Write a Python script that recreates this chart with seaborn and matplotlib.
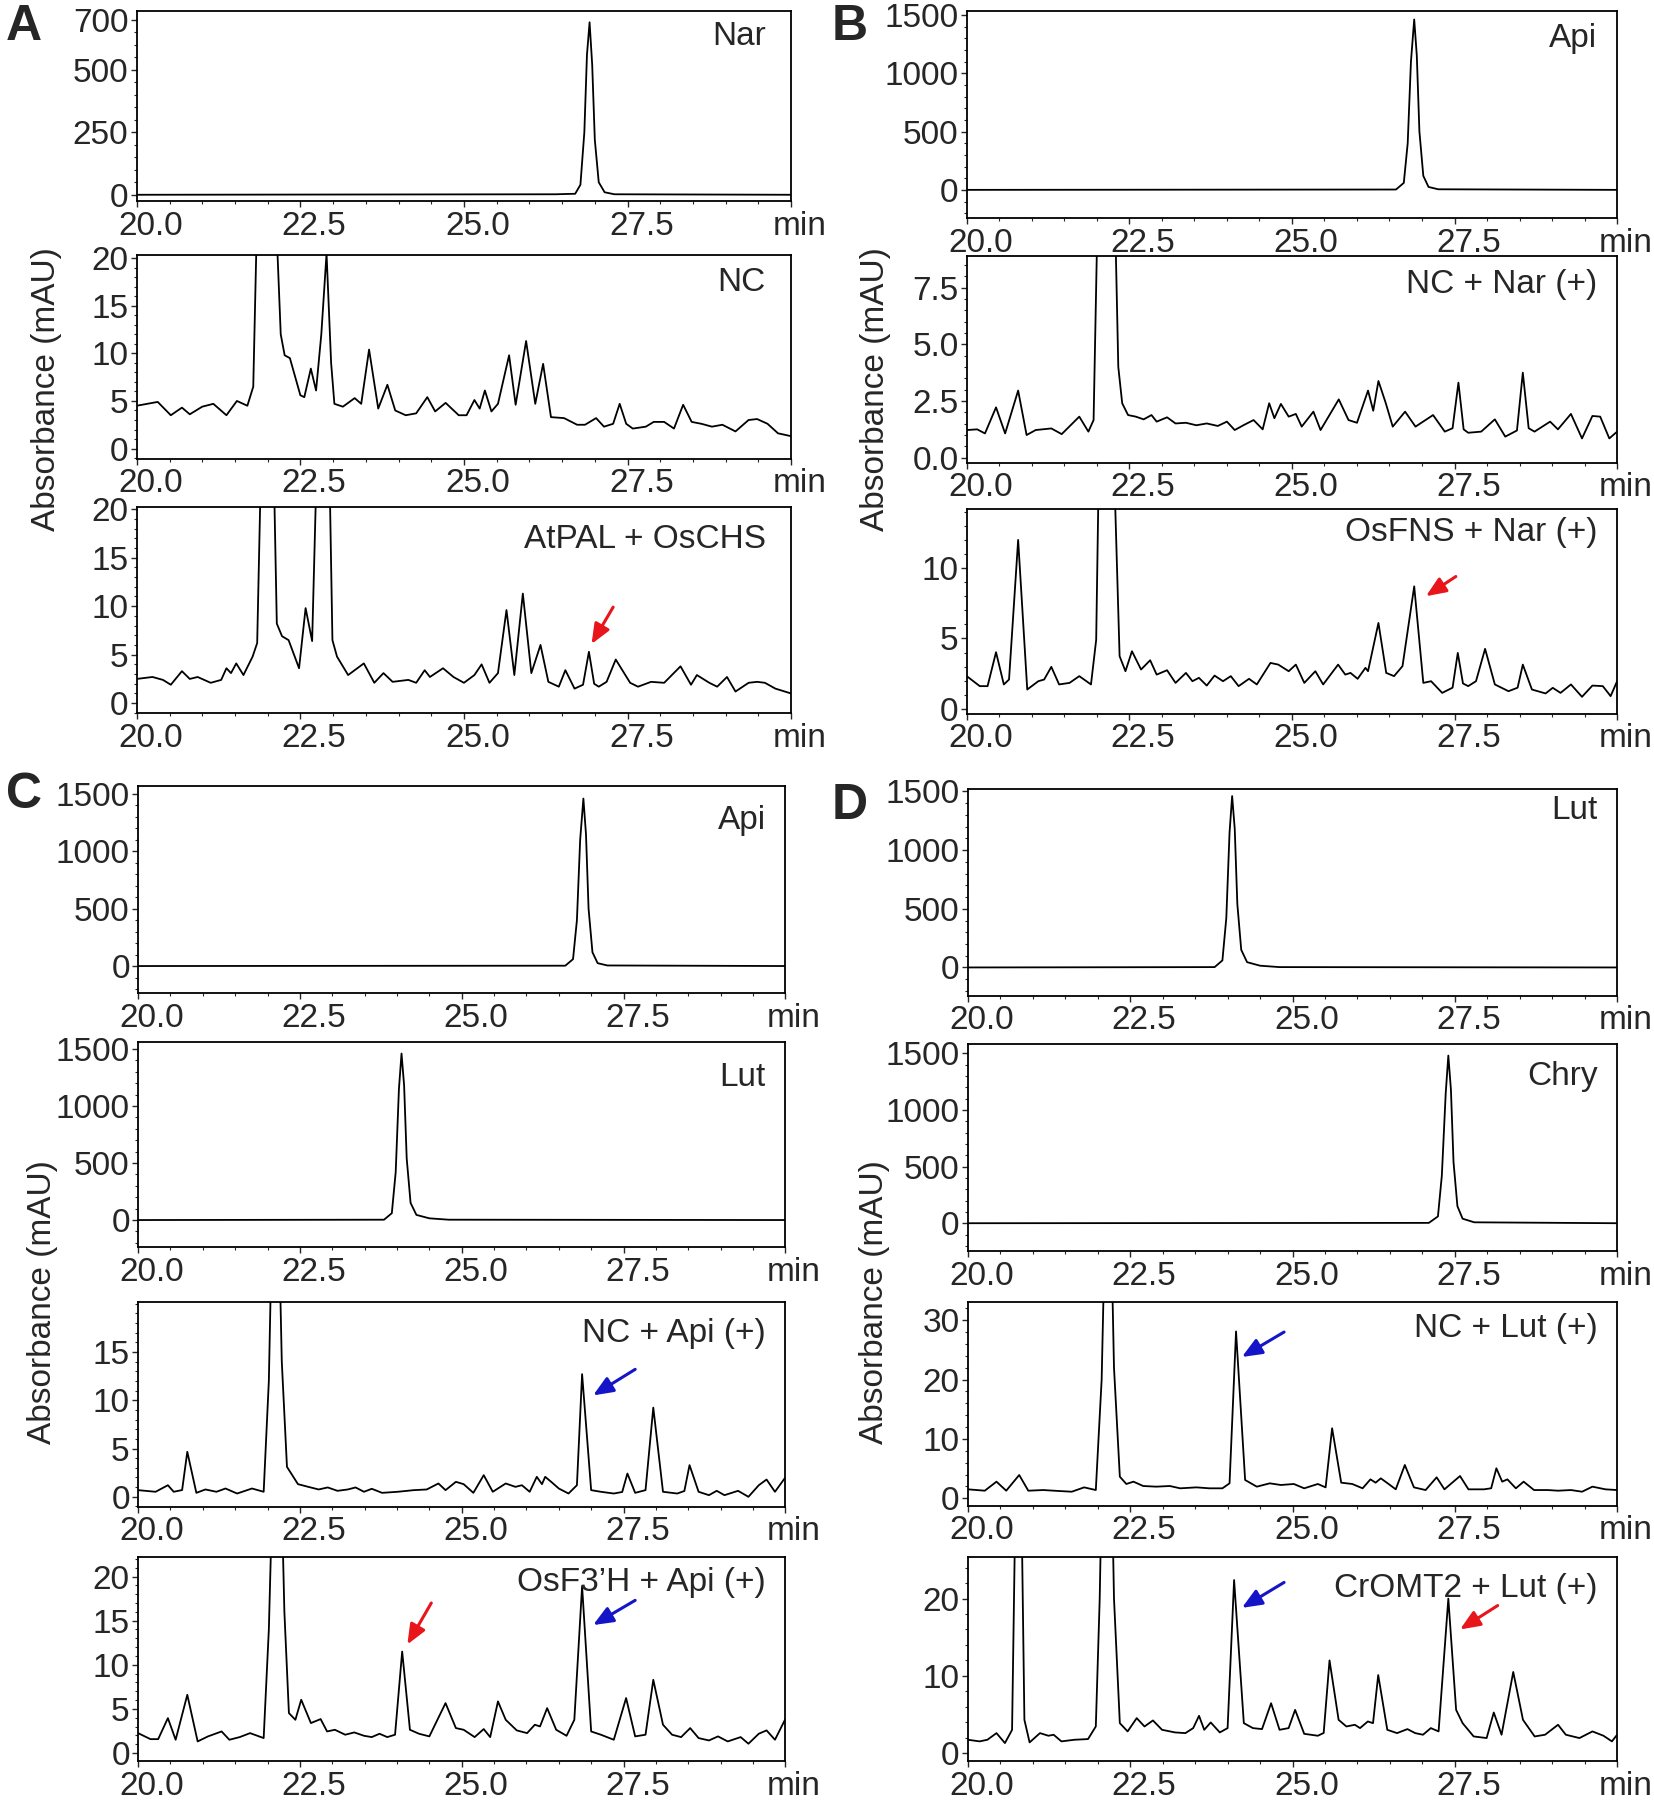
import seaborn as sns
import matplotlib.pyplot as plt
import matplotlib.transforms as mtrans
from matplotlib.ticker import MultipleLocator, AutoMinorLocator, FormatStrFormatter

# ---- chromatogram traces (retention time in min, absorbance in mAU) ----
nar_t = [20.0, 26.4, 26.7, 26.78, 26.84, 26.88, 26.92, 26.96, 27.0, 27.06, 27.15, 27.3, 30.0]
nar_v = [0, 2, 4, 40, 250, 560, 690, 520, 220, 50, 10, 2, 0]

api_t = [20.0, 26.6, 26.72, 26.78, 26.83, 26.88, 26.92, 26.96, 27.02, 27.1, 27.25, 30.0]
api_v = [0, 3, 60, 400, 1100, 1460, 1150, 500, 120, 25, 5, 0]

lut_t = [20.0, 23.8, 23.92, 23.98, 24.03, 24.07, 24.11, 24.15, 24.21, 24.3, 24.5, 24.8, 30.0]
lut_v = [0, 3, 60, 420, 1150, 1460, 1180, 540, 150, 45, 15, 3, 0]

chry_t = [20.0, 27.1, 27.24, 27.3, 27.36, 27.4, 27.44, 27.48, 27.54, 27.62, 27.8, 30.0]
chry_v = [0, 3, 60, 420, 1150, 1480, 1180, 540, 150, 40, 8, 0]

nc_t = [20.0, 20.32, 20.52, 20.69, 20.81, 21.0, 21.17, 21.37, 21.53, 21.69, 21.78, 21.84,
        21.98, 22.13, 22.2, 22.26, 22.34, 22.5, 22.56, 22.66, 22.74, 22.82, 22.9, 22.97,
        23.02, 23.15, 23.33, 23.43, 23.55, 23.69, 23.83, 23.95, 24.11, 24.27, 24.44, 24.56,
        24.72, 24.92, 25.04, 25.16, 25.24, 25.32, 25.42, 25.52, 25.69, 25.79, 25.95, 26.09,
        26.21, 26.33, 26.53, 26.73, 26.85, 27.02, 27.14, 27.28, 27.38, 27.48, 27.58, 27.78,
        27.9, 28.06, 28.21, 28.35, 28.48, 28.63, 28.79, 28.95, 29.15, 29.35, 29.48, 29.64,
        29.8, 30.0]
nc_v = [4.5, 4.9, 3.5, 4.3, 3.6, 4.4, 4.7, 3.5, 5.0, 4.5, 6.5, 25,
        70, 24, 12, 9.8, 9.5, 5.6, 5.4, 8.4, 6.1, 12, 20.5, 9,
        4.7, 4.4, 5.3, 4.7, 10.4, 4.2, 6.7, 4.0, 3.5, 3.7, 5.4, 3.9,
        4.8, 3.5, 3.5, 5.1, 4.2, 6.1, 3.9, 4.7, 9.8, 4.6, 11.3, 4.7,
        8.9, 3.3, 3.2, 2.5, 2.5, 3.2, 2.3, 2.6, 4.7, 2.6, 2.1, 2.3,
        2.8, 2.8, 2.1, 4.6, 2.8, 2.6, 2.3, 2.5, 1.8, 3.0, 3.1, 2.6,
        1.6, 1.3]

chs_t = [20.0, 20.24, 20.4, 20.52, 20.69, 20.81, 20.93, 21.13, 21.29, 21.37, 21.44, 21.52,
         21.63, 21.77, 21.84, 21.9, 22.0, 22.1, 22.14, 22.22, 22.32, 22.48, 22.58, 22.68,
         22.74, 22.84, 22.95, 22.99, 23.06, 23.23, 23.47, 23.63, 23.77, 23.91, 24.15, 24.27,
         24.4, 24.48, 24.68, 24.84, 25.0, 25.16, 25.27, 25.39, 25.52, 25.65, 25.77, 25.9,
         26.03, 26.17, 26.29, 26.45, 26.55, 26.69, 26.82, 26.91, 26.99, 27.06, 27.18, 27.32,
         27.54, 27.66, 27.86, 28.06, 28.31, 28.47, 28.56, 28.75, 28.87, 29.02, 29.15, 29.35,
         29.48, 29.6, 29.76, 30.0]
chs_v = [2.5, 2.7, 2.4, 1.9, 3.3, 2.5, 2.7, 2.1, 2.4, 3.6, 3.1, 4.1,
         2.9, 4.8, 6.2, 25, 70, 22, 8.2, 6.9, 6.5, 3.6, 9.8, 6.4,
         22, 60, 22, 6.5, 4.8, 2.9, 4.1, 2.1, 3.1, 2.2, 2.4, 2.1,
         3.4, 2.7, 3.6, 2.7, 2.1, 2.9, 4.0, 2.1, 3.1, 9.6, 2.9, 11.3,
         3.1, 6.0, 2.2, 1.7, 3.4, 1.5, 1.9, 5.3, 2.0, 1.7, 2.2, 4.5,
         2.1, 1.7, 2.2, 2.1, 3.8, 1.9, 2.9, 2.1, 1.7, 2.7, 1.2, 2.1,
         2.2, 2.1, 1.5, 1.0]

ncnar_t = [20.0, 20.16, 20.28, 20.45, 20.59, 20.79, 20.92, 21.06, 21.3, 21.46, 21.73, 21.87,
           21.95, 22.02, 22.15, 22.27, 22.33, 22.39, 22.48, 22.6, 22.72, 22.84, 22.92, 23.08,
           23.21, 23.37, 23.53, 23.69, 23.86, 24.0, 24.12, 24.26, 24.41, 24.55, 24.65, 24.73,
           24.83, 24.95, 25.06, 25.15, 25.33, 25.44, 25.72, 25.87, 26.0, 26.17, 26.25, 26.33,
           26.44, 26.55, 26.74, 26.9, 27.17, 27.35, 27.47, 27.56, 27.64, 27.71, 27.91, 28.12,
           28.28, 28.46, 28.55, 28.64, 28.73, 28.97, 29.09, 29.29, 29.46, 29.62, 29.74, 29.88,
           30.0]
ncnar_v = [1.22, 1.25, 1.07, 2.22, 1.07, 2.96, 1.0, 1.22, 1.29, 1.04, 1.81, 1.15,
           1.66, 12, 40, 12, 4.0, 2.4, 1.88, 1.81, 1.69, 1.88, 1.59, 1.78,
           1.51, 1.54, 1.43, 1.51, 1.40, 1.59, 1.22, 1.44, 1.66, 1.25, 2.4, 1.74,
           2.37, 1.81, 1.93, 1.37, 2.03, 1.22, 2.57, 1.66, 1.54, 2.96, 2.07, 3.38,
           2.43, 1.37, 2.03, 1.37, 1.88, 1.15, 1.3, 3.31, 1.25, 1.1, 1.15, 1.69,
           0.93, 1.2, 3.75, 1.3, 1.15, 1.59, 1.25, 1.93, 0.85, 1.84, 1.81, 0.85,
           1.15]

fns_t = [20.0, 20.2, 20.32, 20.45, 20.57, 20.65, 20.79, 20.93, 21.1, 21.19, 21.3, 21.42,
         21.58, 21.73, 21.91, 21.99, 22.04, 22.15, 22.26, 22.35, 22.44, 22.54, 22.68, 22.82,
         22.92, 23.08, 23.21, 23.37, 23.47, 23.57, 23.69, 23.81, 23.94, 24.06, 24.18, 24.34,
         24.46, 24.67, 24.79, 24.95, 25.06, 25.19, 25.36, 25.48, 25.71, 25.82, 25.9, 26.01,
         26.13, 26.17, 26.33, 26.45, 26.57, 26.7, 26.88, 27.02, 27.14, 27.31, 27.47, 27.55,
         27.63, 27.71, 27.83, 27.97, 28.12, 28.33, 28.47, 28.55, 28.69, 28.9, 29.01, 29.13,
         29.29, 29.46, 29.62, 29.78, 29.9, 30.0]
fns_v = [2.32, 1.61, 1.61, 4.02, 1.73, 2.08, 12.0, 1.37, 1.96, 2.08, 2.98, 1.73,
         1.84, 2.32, 1.73, 4.9, 20, 60, 18, 3.74, 2.67, 4.09, 2.79, 3.45,
         2.43, 2.74, 1.84, 2.55, 1.96, 2.2, 1.65, 2.36, 1.96, 2.32, 1.61, 2.13,
         1.73, 3.26, 3.14, 2.67, 3.14, 1.84, 2.67, 1.73, 3.14, 2.43, 2.55, 2.13,
         2.91, 2.67, 6.1, 2.55, 2.32, 3.03, 8.7, 1.84, 1.96, 1.13, 1.5, 3.97,
         1.8, 1.61, 1.96, 4.26, 1.73, 1.25, 1.5, 3.14, 1.37, 1.09, 1.49, 1.13,
         1.73, 0.85, 1.65, 1.61, 0.9, 1.96]

ncapi_t = [20.0, 20.27, 20.46, 20.55, 20.68, 20.76, 20.9, 21.04, 21.21, 21.35, 21.53, 21.76,
           21.94, 22.02, 22.12, 22.22, 22.3, 22.47, 22.63, 22.79, 22.93, 23.08, 23.24, 23.36,
           23.49, 23.61, 23.77, 24.01, 24.26, 24.46, 24.64, 24.75, 24.91, 25.03, 25.18, 25.34,
           25.48, 25.68, 25.83, 25.93, 26.05, 26.16, 26.24, 26.29, 26.4, 26.5, 26.65, 26.78,
           26.86, 27.0, 27.15, 27.35, 27.48, 27.56, 27.68, 27.84, 27.96, 28.11, 28.33, 28.44,
           28.52, 28.66, 28.82, 28.94, 29.06, 29.27, 29.43, 29.59, 29.71, 29.84, 30.0]
ncapi_v = [0.69, 0.52, 1.2, 0.52, 0.7, 4.66, 0.41, 0.76, 0.52, 0.86, 0.34, 0.86,
           0.52, 12, 45, 14, 3.1, 1.31, 1.03, 0.76, 0.97, 0.62, 0.76, 0.97,
           0.52, 0.83, 0.41, 0.52, 0.69, 0.76, 1.38, 0.69, 1.55, 1.31, 0.41, 2.24,
           0.52, 1.38, 1.03, 1.2, 0.52, 2.07, 1.31, 2.07, 1.45, 0.86, 0.34, 1.2,
           12.7, 0.69, 0.52, 0.34, 0.5, 2.41, 0.41, 0.69, 9.24, 0.52, 0.34, 0.6,
           3.28, 0.52, 0.17, 0.62, 0.17, 0.62, 0.0, 1.2, 1.79, 0.52, 2.0]

f3h_t = [20.0, 20.19, 20.31, 20.46, 20.58, 20.76, 20.92, 21.08, 21.29, 21.41, 21.57, 21.73,
         21.94, 22.02, 22.15, 22.26, 22.33, 22.43, 22.52, 22.67, 22.82, 22.92, 23.04, 23.2,
         23.34, 23.49, 23.61, 23.73, 23.85, 23.97, 24.08, 24.2, 24.34, 24.5, 24.75, 24.91,
         25.03, 25.2, 25.34, 25.44, 25.56, 25.68, 25.85, 26.01, 26.13, 26.21, 26.32, 26.46,
         26.62, 26.74, 26.86, 27.0, 27.15, 27.35, 27.54, 27.68, 27.84, 27.96, 28.11, 28.25,
         28.39, 28.53, 28.66, 28.82, 28.96, 29.11, 29.31, 29.43, 29.59, 29.71, 29.84, 30.0]
f3h_v = [2.26, 1.58, 1.58, 3.96, 1.51, 6.6, 1.32, 1.89, 2.45, 1.51, 1.81, 2.26,
         1.7, 14, 50, 16, 4.53, 3.77, 6.04, 3.4, 3.85, 2.45, 2.64, 2.08,
         2.34, 1.96, 1.81, 2.19, 1.81, 2.08, 11.5, 2.64, 2.19, 1.89, 5.66, 2.83,
         2.64, 1.81, 2.72, 1.81, 5.85, 3.77, 2.57, 2.26, 3.21, 3.02, 5.09, 2.64,
         1.96, 3.77, 18.9, 2.45, 2.08, 1.51, 6.23, 1.89, 2.08, 8.3, 3.21, 2.08,
         1.81, 2.83, 1.7, 1.43, 1.89, 1.32, 1.81, 1.06, 2.19, 2.57, 1.51, 3.85]

nclut_t = [20.0, 20.26, 20.44, 20.59, 20.79, 20.93, 21.16, 21.4, 21.6, 21.79, 21.97, 22.06,
           22.16, 22.25, 22.34, 22.44, 22.55, 22.7, 22.9, 23.11, 23.27, 23.52, 23.72, 23.92,
           24.03, 24.13, 24.27, 24.45, 24.65, 24.82, 25.02, 25.18, 25.39, 25.51, 25.61, 25.75,
           25.92, 26.08, 26.2, 26.28, 26.36, 26.48, 26.59, 26.73, 26.87, 27.05, 27.22, 27.34,
           27.58, 27.71, 27.95, 28.06, 28.14, 28.23, 28.31, 28.44, 28.56, 28.72, 28.93, 29.09,
           29.29, 29.46, 29.62, 29.82, 30.0]
nclut_v = [1.52, 1.29, 2.81, 1.29, 3.93, 1.29, 1.4, 1.24, 1.12, 1.85, 1.4, 20,
           70, 22, 3.65, 2.42, 2.81, 2.08, 1.97, 2.08, 1.69, 1.85, 1.69, 1.69,
           2.53, 28.1, 3.09, 1.97, 2.53, 2.25, 2.42, 1.69, 2.42, 1.85, 11.8, 2.64,
           2.42, 1.69, 3.2, 2.64, 3.37, 2.42, 1.52, 5.62, 1.85, 1.4, 3.54, 1.52,
           3.76, 1.52, 1.52, 1.7, 5.06, 2.81, 3.2, 1.69, 2.81, 1.4, 1.4, 1.29,
           1.4, 1.12, 1.97, 1.52, 1.4]

omt_t = [20.0, 20.18, 20.3, 20.44, 20.57, 20.68, 20.78, 20.87, 20.95, 21.11, 21.24, 21.32,
         21.44, 21.64, 21.85, 21.97, 22.03, 22.14, 22.25, 22.34, 22.46, 22.6, 22.72, 22.85,
         22.99, 23.19, 23.35, 23.47, 23.56, 23.64, 23.74, 23.88, 24.0, 24.1, 24.25, 24.39,
         24.53, 24.67, 24.8, 24.94, 25.04, 25.18, 25.39, 25.48, 25.57, 25.71, 25.83, 25.96,
         26.04, 26.16, 26.24, 26.32, 26.46, 26.61, 26.77, 26.89, 27.01, 27.13, 27.25, 27.4,
         27.52, 27.62, 27.79, 27.99, 28.1, 28.22, 28.4, 28.55, 28.73, 28.89, 29.09, 29.21,
         29.42, 29.62, 29.79, 29.92, 30.0]
omt_v = [1.72, 1.51, 1.72, 2.58, 1.29, 3.0, 60, 4.3, 1.38, 2.58, 2.24, 2.37,
         1.51, 1.72, 1.81, 3.44, 20, 70, 20, 3.87, 2.8, 4.52, 3.44, 4.22,
         3.01, 2.67, 2.58, 3.23, 4.82, 3.01, 3.96, 2.67, 3.23, 22.4, 3.87, 3.23,
         3.1, 6.45, 3.01, 3.23, 5.59, 2.49, 2.24, 2.6, 12.0, 4.3, 3.44, 3.66,
         3.23, 4.09, 3.87, 10.1, 3.01, 2.58, 3.1, 2.58, 2.37, 3.23, 2.8, 20.0,
         5.59, 3.87, 2.15, 1.94, 5.25, 2.37, 10.5, 4.3, 2.15, 2.37, 3.66, 2.37,
         1.94, 2.8, 2.24, 1.51, 2.37]

# sample names shown inside each trace
names = ["Nar", "NC", "AtPAL + OsCHS",
         "Api", "NC + Nar (+)", "OsFNS + Nar (+)",
         "Api", "Lut", "NC + Api (+)", "OsF3\u2019H + Api (+)",
         "Lut", "Chry", "NC + Lut (+)", "CrOMT2 + Lut (+)"]

# ---- figure ----
sns.set_style("ticks")
plt.rcParams["font.family"] = ["Liberation Sans", "DejaVu Sans"]
plt.rcParams["font.size"] = 24

fig = plt.figure(figsize=(16.54, 18.11), dpi=100)

# (trace t, trace v, rect, ylim, yticks, tick format, label y (from top, px of 1568))
panels = [
    (nar_t, nar_v, [0.0827, 0.8890, 0.3956, 0.1049], (-25, 735), [0, 250, 500, 700], "%d", 32),
    (nc_t, nc_v, [0.0827, 0.7468, 0.3956, 0.1122], (-1.05, 20.3), [0, 5, 10, 15, 20], "%d", 245),
    (chs_t, chs_v, [0.0827, 0.6062, 0.3956, 0.1141], (-1.03, 20.27), [0, 5, 10, 15, 20], "%d", 467),
    (api_t, api_v, [0.5845, 0.8795, 0.3932, 0.1145], (-243, 1534), [0, 500, 1000, 1500], "%d", 33),
    (ncnar_t, ncnar_v, [0.5845, 0.7445, 0.3932, 0.1139], (-0.22, 8.87), [0, 2.5, 5, 7.5], "%.1f", 246),
    (fns_t, fns_v, [0.5845, 0.6059, 0.3932, 0.1129], (-0.35, 14.18), [0, 5, 10], "%d", 461),
    (api_t, api_v, [0.0835, 0.4515, 0.3913, 0.1145], (-238, 1570), [0, 500, 1000, 1500], "%d", 710),
    (lut_t, lut_v, [0.0835, 0.3112, 0.3913, 0.1135], (-240, 1562), [0, 500, 1000, 1500], "%d", 933),
    (ncapi_t, ncapi_v, [0.0835, 0.1680, 0.3913, 0.1132], (-1.03, 20.2), [0, 5, 10, 15], "%d", 1155),
    (f3h_t, f3h_v, [0.0835, 0.0274, 0.3913, 0.1131], (-0.94, 22.26), [0, 5, 10, 15, 20], "%d", 1370),
    (lut_t, lut_v, [0.5852, 0.4503, 0.3925, 0.1142], (-239, 1523), [0, 500, 1000, 1500], "%d", 702),
    (chry_t, chry_v, [0.5852, 0.3093, 0.3925, 0.1142], (-244, 1582), [0, 500, 1000, 1500], "%d", 932),
    (nclut_t, nclut_v, [0.5852, 0.1686, 0.3925, 0.1126], (-1.23, 33.1), [0, 10, 20, 30], "%d", 1150),
    (omt_t, omt_v, [0.5852, 0.0274, 0.3925, 0.1129], (-1.08, 25.4), [0, 10, 20], "%d", 1375),
]

shift = mtrans.ScaledTranslation(-0.185, 0, fig.dpi_scale_trans)
axes = []
for i, (t, v, rect, ylim, yt, fmt, ly) in enumerate(panels):
    ax = fig.add_axes(rect)
    sns.lineplot(x=t, y=v, ax=ax, color="black", lw=1.3, estimator=None, sort=False)
    ax.set_xlim(20, 30)
    ax.set_ylim(*ylim)
    ax.set_xticks([20, 22.5, 25, 27.5, 30])
    ax.set_xticklabels(["20.0", "22.5", "25.0", "27.5", "min"])
    ax.xaxis.set_minor_locator(MultipleLocator(0.5))
    ax.set_yticks(yt)
    ax.yaxis.set_major_formatter(FormatStrFormatter(fmt))
    ax.yaxis.set_minor_locator(AutoMinorLocator(5))
    ax.tick_params(which="major", direction="out", length=4, width=1, pad=2, labelsize=24)
    ax.tick_params(which="minor", direction="out", length=2, width=0.8)
    ax.tick_params(axis="x", pad=3)
    for lab in ax.get_xticklabels():
        lab.set_horizontalalignment("left")
        lab.set_transform(lab.get_transform() + shift)
    for sp in ax.spines.values():
        sp.set_visible(True)
        sp.set_linewidth(1.3)
        sp.set_color("black")
    rx = 663 if i in (0, 1, 2, 6, 7, 8, 9) else 1383
    fig.text(rx / 1432, 1 - ly / 1568, names[i], ha="right", va="center", fontsize=24)
    axes.append(ax)

# panel letters and y-axis titles
for letter, x, y in [("A", 21, 23), ("B", 736, 23), ("C", 21, 688), ("D", 736, 698)]:
    fig.text(x / 1432, 1 - y / 1568, letter, ha="center", va="center",
             fontsize=36, fontweight="bold")
for x, y in [(40, 337), (758, 337), (37, 1127), (757, 1127)]:
    fig.text(x / 1432, 1 - y / 1568, "Absorbance (mAU)", rotation=90,
             ha="center", va="center", fontsize=24)

# arrows marking product (red) and substrate (blue) peaks
red = "#e8151b"
blue = "#1515c8"
arrows = [
    (2, (27.28, 9.9), (26.95, 6.1), red),
    (5, (27.52, 9.4), (27.06, 8.0), red),
    (8, (27.68, 13.2), (27.03, 10.5), blue),
    (9, (24.53, 17.0), (24.16, 12.3), red),
    (9, (27.68, 17.3), (27.03, 14.5), blue),
    (12, (24.87, 28.0), (24.22, 23.8), blue),
    (13, (24.87, 22.1), (24.22, 18.8), blue),
    (13, (28.16, 19.1), (27.58, 16.0), red),
]
for k, tail, head, col in arrows:
    axes[k].annotate("", xy=head, xytext=tail,
                     arrowprops=dict(arrowstyle="-|>,head_length=0.6,head_width=0.25",
                                     color=col, lw=2.2, shrinkA=0, shrinkB=0,
                                     mutation_scale=20))

plt.savefig("out.png", dpi=100)
